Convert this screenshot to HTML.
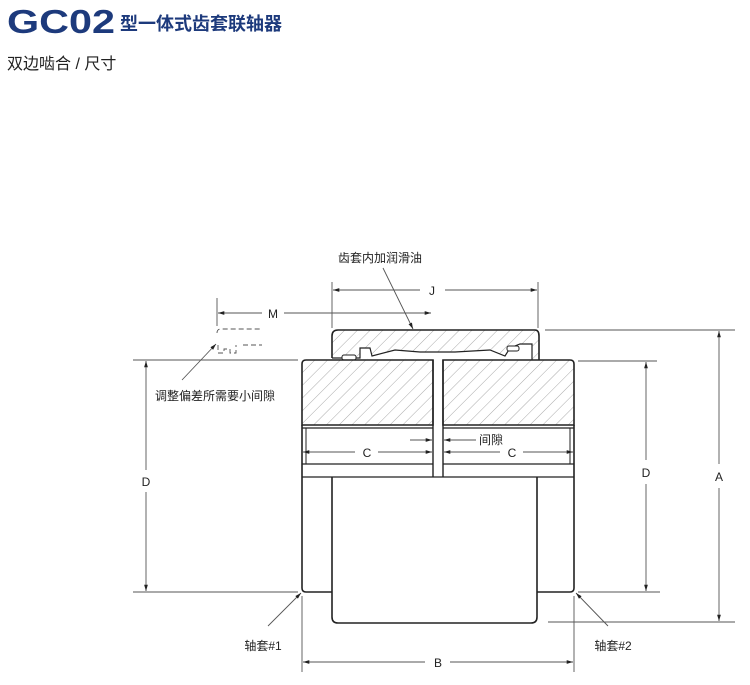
<!DOCTYPE html>
<html><head><meta charset="utf-8"><style>
html,body{margin:0;padding:0;background:#fff;}
body{width:750px;height:685px;overflow:hidden;position:relative;font-family:"Liberation Sans","Noto Sans CJK SC",sans-serif;}
</style></head><body>
<svg width="750" height="685" viewBox="0 0 750 685" xmlns="http://www.w3.org/2000/svg" style="position:absolute;left:0;top:0">
<defs>
<pattern id="h" patternUnits="userSpaceOnUse" width="9" height="9" patternTransform="rotate(45)">
<line x1="0" y1="0" x2="0" y2="9" stroke="#aaa" stroke-width="1"/>
</pattern>
<marker id="ar" viewBox="0 0 10 10" refX="10" refY="5" markerWidth="7" markerHeight="7" orient="auto-start-reverse"><path d="M0,2 L10,5 L0,8z" fill="#222"/></marker>
</defs>
<text x="7" y="33" font-family="Liberation Sans,sans-serif" font-weight="bold" font-size="33" fill="#1d3a7c" textLength="108" lengthAdjust="spacingAndGlyphs">GC02</text>
<text x="120" y="30" font-family="Liberation Sans,Noto Sans CJK SC,sans-serif" font-weight="bold" font-size="18" fill="#1d3a7c">型一体式齿套联轴器</text>
<text x="7" y="69" font-family="Liberation Sans,Noto Sans CJK SC,sans-serif" font-size="16" fill="#222">双边啮合 / 尺寸</text>

<g stroke="#222" fill="none" stroke-width="1.6">
<!-- sleeve -->
<path d="M332,358 L332,336 Q332,330 338,330 L535,330 Q539,330 539,336 L539,360" fill="url(#h)"/>
<path d="M332,358 L360,358 L360,348 L370,348 L372,356 L395,350 L420,352 L455,352 L490,350 L505,356 L510,348 L520,344 L532,344 L532,360" fill="#fff" stroke-width="1.2"/>
<rect x="342" y="355" width="14" height="5" rx="2" fill="#fff" stroke-width="1"/>
<rect x="507" y="346" width="12" height="5" rx="2" fill="#fff" stroke-width="1"/>
<!-- hubs -->
<path d="M302,425 L302,364 Q302,360 306,360 L433,360 L433,425 Z" fill="url(#h)"/>
<path d="M443,425 L443,360 L570,360 Q574,360 574,364 L574,425 Z" fill="url(#h)"/>
<path d="M433,360 L433,477 M443,360 L443,477" stroke-width="1.4"/>
<path d="M302,425 L302,588 Q302,592 306,592 L332,592 M574,425 L574,588 Q574,592 570,592 L537,592"/>
<path d="M302,428 L433,428 M443,428 L574,428 M302,464 L433,464 M443,464 L574,464 M302,477 L574,477" stroke-width="1.3"/>
<path d="M332,477 L332,617 Q332,623 338,623 L531,623 Q537,623 537,617 L537,477"/>
<path d="M306,428 L306,464 M570,428 L570,464" stroke-width="1"/>
</g>

<g stroke="#555" stroke-width="0.9" fill="none">
<!-- J -->
<line x1="332" y1="282" x2="332" y2="328"/><line x1="538" y1="282" x2="538" y2="328"/>
<line x1="333" y1="290" x2="420" y2="290" marker-start="url(#ar)"/><line x1="445" y1="290" x2="537" y2="290" marker-end="url(#ar)"/>
<!-- M -->
<line x1="217" y1="298" x2="217" y2="326"/>
<line x1="218" y1="313" x2="262" y2="313" marker-start="url(#ar)"/><line x1="284" y1="313" x2="431" y2="313" marker-end="url(#ar)"/>
<path d="M217,333 Q217,329 221,329 L262,329 M218,345 L218,353 L224,353 L224,349 L230,349 L230,353 L236,353 L236,345 M243,345 L262,345" stroke-dasharray="5,3"/>
<!-- D left -->
<line x1="133" y1="360" x2="298" y2="360"/><line x1="133" y1="592" x2="298" y2="592"/>
<line x1="146" y1="361" x2="146" y2="470" marker-start="url(#ar)"/><line x1="146" y1="492" x2="146" y2="591" marker-end="url(#ar)"/>
<!-- D right -->
<line x1="578" y1="361" x2="657" y2="361"/><line x1="578" y1="592" x2="660" y2="592"/>
<line x1="646" y1="362" x2="646" y2="460" marker-start="url(#ar)"/><line x1="646" y1="484" x2="646" y2="591" marker-end="url(#ar)"/>
<!-- A -->
<line x1="545" y1="330" x2="735" y2="330"/><line x1="548" y1="622" x2="735" y2="622"/>
<line x1="719" y1="331" x2="719" y2="464" marker-start="url(#ar)"/><line x1="719" y1="488" x2="719" y2="621" marker-end="url(#ar)"/>
<!-- B -->
<line x1="302" y1="596" x2="302" y2="672"/><line x1="574" y1="596" x2="574" y2="672"/>
<line x1="303" y1="662" x2="425" y2="662" marker-start="url(#ar)"/><line x1="450" y1="662" x2="573" y2="662" marker-end="url(#ar)"/>
<!-- C -->
<line x1="303" y1="452" x2="355" y2="452" marker-start="url(#ar)"/><line x1="378" y1="452" x2="432" y2="452" marker-end="url(#ar)"/>
<line x1="444" y1="452" x2="500" y2="452" marker-start="url(#ar)"/><line x1="523" y1="452" x2="573" y2="452" marker-end="url(#ar)"/>
<!-- gap -->
<line x1="410" y1="440" x2="432" y2="440" marker-end="url(#ar)"/><line x1="444" y1="440" x2="476" y2="440" marker-start="url(#ar)"/>
<!-- leaders -->
<line x1="383" y1="268" x2="413" y2="329" marker-end="url(#ar)"/>
<line x1="182" y1="380" x2="216" y2="344" marker-end="url(#ar)"/>
<line x1="268" y1="626" x2="301" y2="593" marker-end="url(#ar)"/>
<line x1="608" y1="626" x2="576" y2="593" marker-end="url(#ar)"/>
</g>

<g font-family="Liberation Sans,Noto Sans CJK SC,sans-serif" font-size="12" fill="#222" text-anchor="middle">
<text x="380" y="262">齿套内加润滑油</text>
<text x="432" y="295">J</text>
<text x="273" y="318">M</text>
<text x="215" y="400">调整偏差所需要小间隙</text>
<text x="146" y="486">D</text>
<text x="646" y="477">D</text>
<text x="719" y="481">A</text>
<text x="367" y="457">C</text>
<text x="512" y="457">C</text>
<text x="491" y="444">间隙</text>
<text x="438" y="667">B</text>
<text x="263" y="650">轴套#1</text>
<text x="613" y="650">轴套#2</text>
</g>
</svg>
</body></html>
